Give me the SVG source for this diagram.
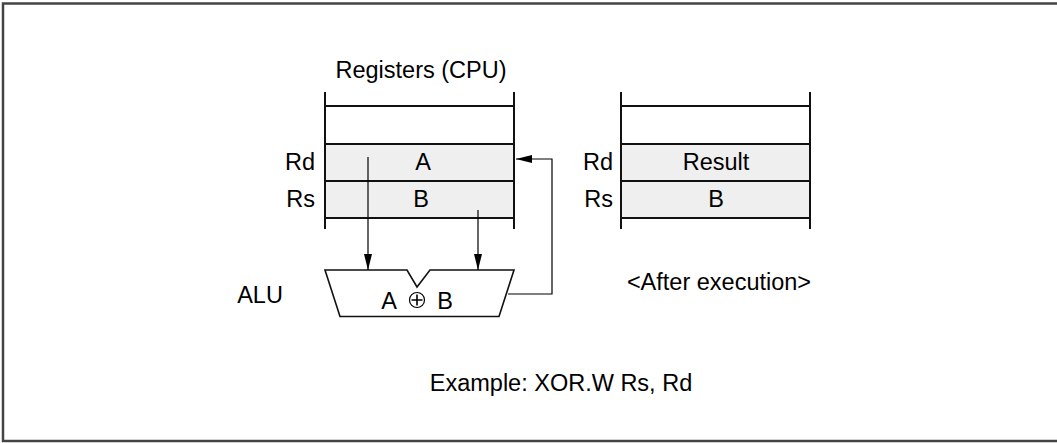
<svg xmlns="http://www.w3.org/2000/svg" width="1057" height="443" viewBox="0 0 1057 443">
<defs>
<marker id="ah" markerWidth="16" markerHeight="8" refX="16" refY="4" orient="auto" markerUnits="userSpaceOnUse">
<path d="M0,0 L16,4 L0,8 Z" fill="#000"/>
</marker>
<style>
text{font-family:"Liberation Sans",Arial,sans-serif;font-size:23.5px;fill:#000}
.c{text-anchor:middle}
.r{text-anchor:end}
.reg{fill:#efefef;stroke:none}
.ln{stroke:#111;stroke-width:2;fill:none}
.ar{stroke:#000;stroke-width:1.2;fill:none}
</style>
</defs>
<rect x="0" y="0" width="1057" height="443" fill="#fff"/>
<rect x="3" y="3.5" width="1060" height="437.5" fill="none" stroke="#444" stroke-width="2.5"/>

<g id="registers-cpu">
<text class="c" x="421" y="78">Registers (CPU)</text>
<rect class="reg" x="325" y="144" width="189" height="74"/>
<path class="ln" d="M325,92 V229 M514,92 V229 M325,106 H514 M325,144 H514 M325,181 H514 M325,218 H514"/>
<text class="r" x="315" y="170">Rd</text>
<text class="r" x="315" y="207">Rs</text>
<text class="c" x="423" y="170">A</text>
<text class="c" x="421" y="207">B</text>
</g>

<g id="registers-after">
<rect class="reg" x="621" y="144" width="190" height="74"/>
<path class="ln" d="M621,92 V229 M810,92 V229 M621,106 H810 M621,144 H810 M621,181 H810 M621,218 H810"/>
<text class="r" x="613" y="170">Rd</text>
<text class="r" x="613" y="207">Rs</text>
<text class="c" x="716" y="170">Result</text>
<text class="c" x="716" y="207">B</text>
<text class="c" x="719" y="290">&lt;After execution&gt;</text>
</g>

<g id="alu">
<text class="c" x="260" y="303">ALU</text>
<path d="M325,270 H407 L417,287 L430,270 H514 L499,316.5 H340 Z" fill="#fff" stroke="#111" stroke-width="1.6"/>
<text class="c" x="389" y="309">A</text>
<circle cx="417" cy="300" r="7.5" fill="none" stroke="#000" stroke-width="1.2"/>
<path d="M417,294.5 V305.5 M411.5,300 H422.5" stroke="#000" stroke-width="1.6"/>
<text class="c" x="445" y="309">B</text>
</g>

<g id="connectors">
<path class="ar" d="M368,157 V270" marker-end="url(#ah)"/>
<path class="ar" d="M478,210 V270" marker-end="url(#ah)"/>
<path class="ar" d="M508,294 H552 V159 H516" marker-end="url(#ah)"/>
</g>

<text id="example" class="c" x="561" y="391">Example: XOR.W Rs, Rd</text>
</svg>
